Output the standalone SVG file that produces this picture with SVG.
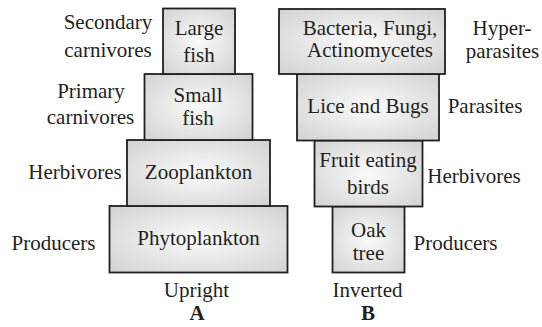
<svg xmlns="http://www.w3.org/2000/svg" width="542" height="327" viewBox="0 0 542 327">
<defs>
<radialGradient id="g" cx="0.5" cy="0.5" r="0.7">
<stop offset="0" stop-color="#fbfbfb"/>
<stop offset="1" stop-color="#d2d2d2"/>
</radialGradient>
<style>
.box{fill:url(#g);stroke:#231f20;stroke-width:1.8}
text{font-size:21px;fill:#231f20;text-anchor:middle}
.b{font-weight:bold}
</style>
</defs>
<rect width="542" height="327" fill="#ffffff"/>
<g id="diagram" font-family="'Liberation Serif', 'DejaVu Serif', 'Times New Roman', serif">
<g id="pyramid-A">
<g id="phytoplankton"><rect class="box" x="109.5" y="206" width="178" height="66.5"/><text x="198.5" y="245">Phytoplankton</text></g>
<g id="zooplankton"><rect class="box" x="127" y="140" width="143" height="66"/><text x="198.5" y="178.5">Zooplankton</text></g>
<g id="small-fish"><rect class="box" x="144.5" y="74" width="108" height="66"/><text x="198" y="102">Small</text><text x="198" y="125">fish</text></g>
<g id="large-fish"><rect class="box" x="163" y="8.5" width="72" height="65.5"/><text x="199" y="35">Large</text><text x="199" y="62">fish</text></g>
<g id="labels-A">
<text x="108" y="29">Secondary</text><text x="108" y="57">carnivores</text>
<text x="91" y="98">Primary</text><text x="90.5" y="124">carnivores</text>
<text x="75" y="179">Herbivores</text>
<text x="53.5" y="250">Producers</text>
<text x="196.5" y="296.5">Upright</text>
<text class="b" x="197" y="320">A</text>
</g>
</g>
<g id="pyramid-B">
<g id="oak-tree"><rect class="box" x="332.5" y="206.5" width="72" height="66"/><text x="368.5" y="237">Oak</text><text x="368.5" y="260">tree</text></g>
<g id="fruit-eating-birds"><rect class="box" x="314.5" y="140.5" width="108" height="66"/><text x="368" y="167">Fruit eating</text><text x="368" y="194">birds</text></g>
<g id="lice-bugs"><rect class="box" x="297" y="74" width="142" height="66.5"/><text x="368" y="113">Lice and Bugs</text></g>
<g id="bacteria"><rect class="box" x="279" y="9" width="166" height="65"/><text x="370" y="35">Bacteria, Fungi,</text><text x="370" y="57">Actinomycetes</text></g>
<g id="labels-B">
<text x="502" y="35">Hyper-</text><text x="502.5" y="58">parasites</text>
<text x="485" y="113">Parasites</text>
<text x="474" y="183">Herbivores</text>
<text x="455.5" y="250">Producers</text>
<text x="367.5" y="296.5">Inverted</text>
<text class="b" x="368" y="320">B</text>
</g>
</g>
</g>
<g id="connectors"/>
</svg>
